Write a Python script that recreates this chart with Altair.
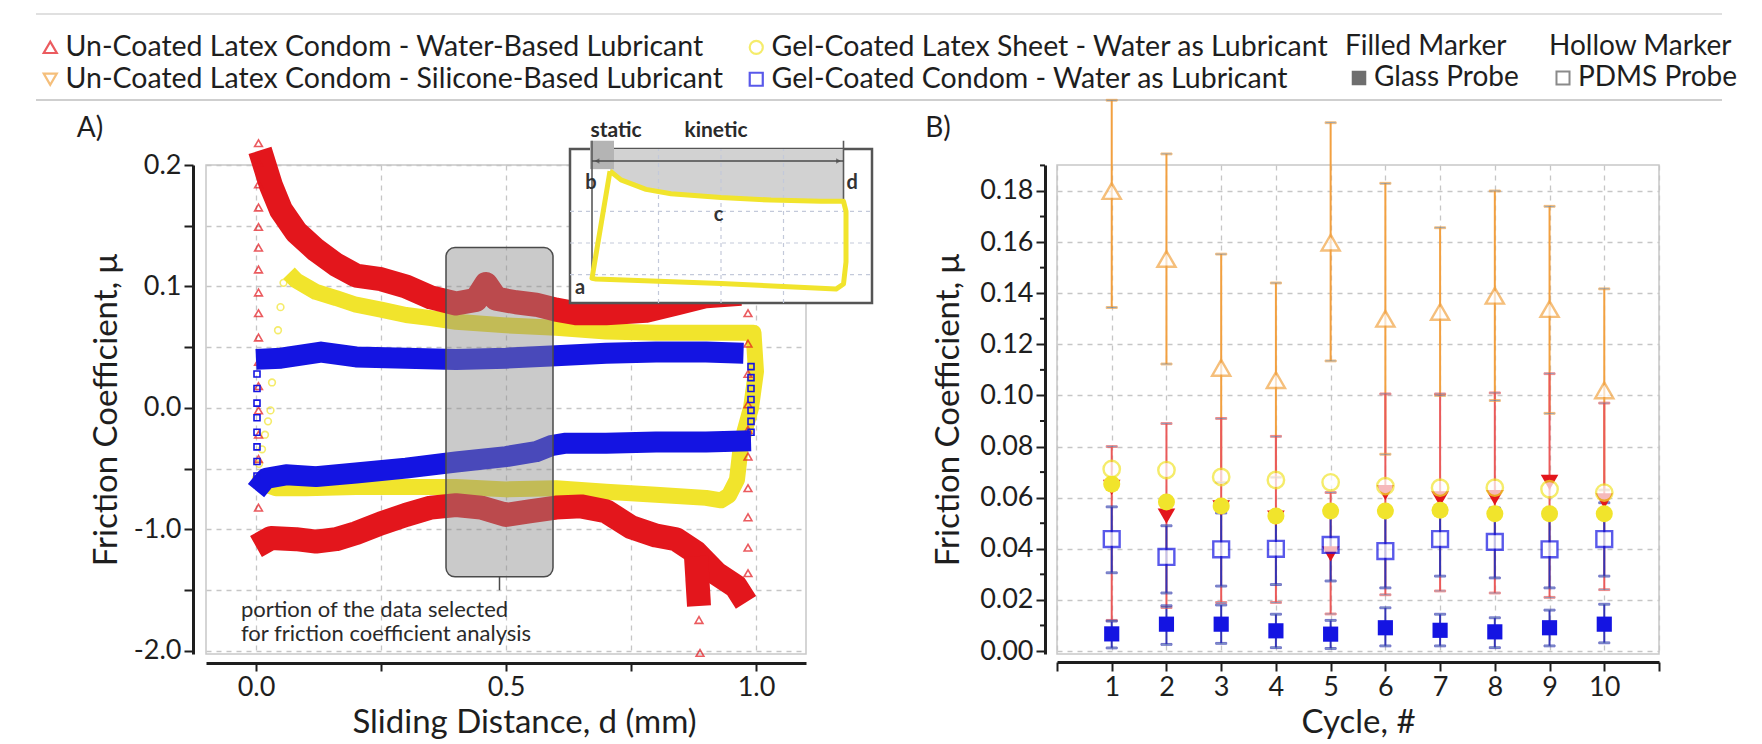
import altair as alt
import pandas as pd

FONT = "Lato"
INK = "#1e1e1e"
RED = "#e3161c"
ORANGE = "#f2a444"
YELLOW = "#f1e42c"
BLUE = "#1414e2"

# ---------------- series / legend (column-major: col 1 = first two) ----------------
series_names = [
    "Un-Coated Latex Condom - Water-Based Lubricant",
    "Un-Coated Latex Condom - Silicone-Based Lubricant",
    "Gel-Coated Latex Sheet - Water as Lubricant",
    "Gel-Coated Condom - Water as Lubricant",
]
series_colors = [RED, ORANGE, YELLOW, BLUE]
series_shapes = ["triangle-up", "triangle-down", "circle", "square"]
S_WATER, S_SILICONE, S_SHEET, S_CONDOM = series_names

# ---------------- panel A : friction loops ----------------
red_up_d = [0.008, 0.03, 0.05, 0.08, 0.12, 0.16, 0.20, 0.25, 0.30, 0.35, 0.40, 0.44, 0.46, 0.48,
            0.52, 0.56, 0.60, 0.64, 0.70, 0.78, 0.84, 0.90, 0.97]
red_up_mu = [0.212, 0.183, 0.163, 0.145, 0.130, 0.118, 0.109, 0.106, 0.100, 0.091, 0.086, 0.089, 0.102,
             0.090, 0.087, 0.085, 0.081, 0.078, 0.078, 0.080, 0.086, 0.092, 0.094]
red_dn_d = [0.0, 0.03, 0.08, 0.12, 0.16, 0.20, 0.25, 0.30, 0.35, 0.40, 0.45, 0.50, 0.55, 0.60, 0.65,
            0.70, 0.75, 0.80, 0.84, 0.88, 0.92, 0.96, 0.98]
red_dn_mu = [-0.114, -0.107, -0.108, -0.110, -0.108, -0.103, -0.095, -0.088, -0.082, -0.080, -0.082,
             -0.088, -0.085, -0.082, -0.081, -0.085, -0.098, -0.105, -0.108, -0.119, -0.136, -0.147, -0.160]
red_dip_d = [0.880, 0.886]
red_dip_mu = [-0.122, -0.163]

yellow_d = [0.0, 0.04, 0.10, 0.20, 0.30, 0.40, 0.50, 0.60, 0.70, 0.80, 0.90, 0.93, 0.946, 0.962, 0.97,
            0.99, 1.0, 0.995, 0.90, 0.80, 0.70, 0.60, 0.50, 0.40, 0.35, 0.30, 0.25, 0.20, 0.16, 0.12,
            0.08, 0.066]
yellow_mu = [-0.060, -0.066, -0.066, -0.065, -0.065, -0.065, -0.067, -0.066, -0.069, -0.0715, -0.074,
             -0.076, -0.072, -0.059, -0.030, 0.000, 0.030, 0.062, 0.062, 0.062, 0.063, 0.066, 0.068,
             0.071, 0.074, 0.0765, 0.081, 0.085, 0.0905, 0.0955, 0.105, 0.111]

blue_up_d = [0.0, 0.05, 0.13, 0.20, 0.30, 0.40, 0.50, 0.60, 0.70, 0.80, 0.90, 0.975]
blue_up_mu = [0.040, 0.041, 0.046, 0.042, 0.041, 0.040, 0.041, 0.043, 0.045, 0.046, 0.046, 0.045]
blue_dn_d = [0.0, 0.02, 0.06, 0.12, 0.20, 0.30, 0.40, 0.50, 0.56, 0.59, 0.62, 0.70, 0.80, 0.90, 0.99]
blue_dn_mu = [-0.068, -0.058, -0.055, -0.0565, -0.0535, -0.0495, -0.0445, -0.040, -0.036, -0.031,
              -0.029, -0.029, -0.028, -0.028, -0.027]

# sparse markers on the reversal edges
red_mk_d = [0.005] * 17 + [0.984] * 10 + [0.886, 0.888]
red_mk_mu = [0.218, 0.202, 0.184, 0.165, 0.149, 0.132, 0.114, 0.095, 0.078, 0.058, 0.038, 0.018,
             -0.002, -0.022, -0.042, -0.062, -0.082,
             0.078, 0.053, 0.028, 0.003, -0.018, -0.040, -0.066, -0.090, -0.115, -0.136,
             -0.1745, -0.2016]
yellow_mk_d = [0.0, 0.006, 0.012, 0.018, 0.024, 0.029, 0.032, 0.039, 0.044, 0.049, 0.055]
yellow_mk_mu = [-0.058, -0.046, -0.034, -0.022, -0.011, -0.002, 0.021, 0.042, 0.064, 0.083, 0.103]
blue_mk_d = [0.002] * 8 + [0.99] * 7
blue_mk_mu = [-0.056, -0.044, -0.032, -0.020, -0.008, 0.004, 0.016, 0.028,
              0.034, 0.025, 0.016, 0.007, -0.002, -0.011, -0.020]

sel_d = [0.38, 0.594]
sel_mu = [-0.139, 0.132]
sel_pointer_d = [0.487]
sel_pointer_mu = [-0.139, -0.150]
note_d = [-0.03]
note_mu = [-0.1665]
note_text = ["portion of the data selected\nfor friction coefficient analysis"]

# inset (own coordinates u, v), placed at half scale inside panel A
INSET_X = [-0.104, 1.104]
INSET_Y = [-0.095, 0.149]
IN_D0, IN_DS = 0.68, 0.5        # d  = IN_D0 + IN_DS * u
IN_M0, IN_MS = 0.1358, 0.5195   # mu = IN_M0 + IN_MS * v
inset_top_u = [0.056, 0.10, 0.20, 0.30, 0.50, 0.70, 0.90, 0.99]
inset_top_v = [0.114, 0.100, 0.085, 0.078, 0.072, 0.068, 0.066, 0.066]
inset_rest_u = [1.0, 1.0, 0.99, 0.96, 0.50, 0.0, -0.016, 0.056]
inset_rest_v = [0.050, -0.030, -0.065, -0.073, -0.064, -0.057, -0.056, 0.114]
inset_static_u = [-0.024, 0.072]
inset_static_v = [0.117, 0.162]
inset_grid_u = [0.25, 0.5, 0.75]
inset_grid_v = [-0.05, 0.0, 0.05]
inset_vline_u = [-0.016, 0.99]
inset_vline_v0 = [-0.056, 0.066]
inset_vline_v1 = [0.162, 0.162]
inset_arrow_u = [-0.016, 0.99]
inset_arrow_v = 0.130
inset_letters = ["a", "b", "c", "d"]
inset_letters_u = [-0.064, -0.02, 0.49, 1.025]
inset_letters_v = [-0.071, 0.095, 0.045, 0.095]
inset_words = ["static", "kinetic"]
inset_words_u = [0.08, 0.48]
inset_words_v = [0.178, 0.178]

# ---------------- panel B : friction per cycle ----------------
cycles = list(range(1, 11))
sil_mu = [0.180, 0.1534, 0.1108, 0.106, 0.1598, 0.130, 0.1327, 0.139, 0.1338, 0.102]
sil_lo = [0.1344, 0.1123, 0.066, 0.068, 0.1135, 0.077, 0.100, 0.098, 0.093, 0.063]
sil_hi = [0.2155, 0.1945, 0.1553, 0.144, 0.2067, 0.183, 0.1656, 0.180, 0.174, 0.1417]
water_mu = [0.064, 0.0528, 0.056, 0.052, 0.038, 0.062, 0.0595, 0.060, 0.066, 0.0587]
water_lo = [0.012, 0.017, 0.019, 0.019, 0.0145, 0.022, 0.0235, 0.0227, 0.021, 0.024]
water_hi = [0.080, 0.089, 0.091, 0.084, 0.062, 0.1006, 0.1006, 0.101, 0.1085, 0.097]
sheet_pdms_mu = [0.0712, 0.0708, 0.0681, 0.0669, 0.066, 0.0645, 0.0639, 0.0639, 0.0633, 0.062]
sheet_glass_mu = [0.0653, 0.0583, 0.0567, 0.0528, 0.0548, 0.0548, 0.0551, 0.0537, 0.0537, 0.0537]
condom_pdms_mu = [0.0438, 0.0368, 0.0398, 0.040, 0.0415, 0.0391, 0.0438, 0.0427, 0.0398, 0.0438]
condom_pdms_lo = [0.0306, 0.0227, 0.0254, 0.026, 0.0274, 0.0247, 0.0293, 0.0286, 0.0247, 0.0293]
condom_pdms_hi = [0.0564, 0.049, 0.054, 0.053, 0.055, 0.054, 0.057, 0.056, 0.054, 0.058]
condom_glass_mu = [0.0067, 0.0105, 0.0105, 0.0079, 0.0066, 0.0091, 0.0081, 0.0075, 0.0091, 0.0105]
condom_glass_lo = [0.0012, 0.0026, 0.003, 0.0013, 0.001, 0.002, 0.002, 0.0013, 0.002, 0.0032]
condom_glass_hi = [0.0117, 0.0177, 0.018, 0.0144, 0.012, 0.0169, 0.0144, 0.013, 0.016, 0.0183]

b_groups = ["Silicone / PDMS", "Water / Glass", "Sheet / Glass", "Sheet / PDMS",
            "Condom / PDMS", "Condom / Glass"]
b_colors = [ORANGE, RED, YELLOW, YELLOW, BLUE, BLUE]
b_bar_colors = ["#f2a040", "#ea5a5a", YELLOW, YELLOW, "#3434b4", "#3434b4"]
b_shapes = ["triangle-up", "triangle-down", "circle", "circle", "square", "square"]
b_sizes = [330, 230, 240, 250, 220, 210]
b_major_ticks = [round(0.02 * k, 2) for k in range(10)]
b_minor_ticks = [round(0.01 * k, 2) for k in range(1, 20, 2)]

# ================= build tables =================
def path(series, seg, ds, mus):
    return pd.DataFrame({"series": series, "seg": seg, "d": ds, "mu": mus, "i": range(len(ds))})

red_lines = pd.concat([path(S_WATER, "up", red_up_d, red_up_mu),
                       path(S_WATER, "down", red_dn_d, red_dn_mu),
                       path(S_WATER, "dip", red_dip_d, red_dip_mu)])
yellow_lines = path(S_SHEET, "loop", yellow_d, yellow_mu)
blue_lines = pd.concat([path(S_CONDOM, "up", blue_up_d, blue_up_mu),
                        path(S_CONDOM, "down", blue_dn_d, blue_dn_mu)])
red_mk = pd.DataFrame({"series": S_WATER, "d": red_mk_d, "mu": red_mk_mu})
yellow_mk = pd.DataFrame({"series": S_SHEET, "d": yellow_mk_d, "mu": yellow_mk_mu})
blue_mk = pd.DataFrame({"series": S_CONDOM, "d": blue_mk_d, "mu": blue_mk_mu, "probe": "PDMS Probe"})

# ================= panel A =================
A_XS = alt.Scale(domain=[-0.1, 1.1], nice=False, zero=False)
A_YS = alt.Scale(domain=[-0.2025, 0.2], nice=False, zero=False)
A_XAXIS = alt.Axis(
    values=[0, 0.25, 0.5, 0.75, 1.0],
    labelExpr="datum.value == 0 ? '0.0' : datum.value == 0.5 ? '0.5' : datum.value == 1 ? '1.0' : ''",
    tickSize=8, title="Sliding Distance, d (mm)", grid=True, offset=9, labelPadding=3, titlePadding=6,
    titleX=318,
)
A_YAXIS = alt.Axis(
    values=[-0.2, -0.15, -0.1, -0.05, 0, 0.05, 0.1, 0.15, 0.2],
    labelExpr=("datum.value == 0.2 ? '0.2' : datum.value == 0.1 ? '0.1' : datum.value == 0 ? '0.0' : "
               "datum.value == -0.1 ? '-1.0' : datum.value == -0.2 ? '-2.0' : ''"),
    tickSize=9, title="Friction Coefficient, μ", grid=True, offset=13, labelPadding=3, titlePadding=10,
)


def AX(f):
    return alt.X(f"{f}:Q", scale=A_XS, axis=A_XAXIS)


def AY(f):
    return alt.Y(f"{f}:Q", scale=A_YS, axis=A_YAXIS)


SERIES_LEGEND = alt.Legend(
    title=None, orient="none", legendX=-170, legendY=-132, columns=2,
    labelFontSize=28.5, labelLimit=3000, symbolSize=170, symbolStrokeWidth=2.2,
    rowPadding=3, columnPadding=19, labelOffset=1,
)
HOLLOW_LEGEND = alt.Legend(title="Hollow Marker", orient="none", legendX=1343, legendY=-132,
                           symbolType="square", symbolFillColor="white", symbolStrokeColor="#8a8a8a",
                           symbolStrokeWidth=2, symbolSize=170, titlePadding=3, labelOffset=1,
                           labelFontSize=28, titleFontSize=28, labelLimit=1000, titleLimit=1000)
COLOR_SCALE = alt.Scale(domain=series_names, range=series_colors)
SHAPE_SCALE = alt.Scale(domain=series_names, range=series_shapes)
# lines only carry the three series drawn in panel A
LINE_STROKE = alt.Stroke("series:N", scale=alt.Scale(domain=[S_WATER, S_SHEET, S_CONDOM],
                                                     range=[RED, YELLOW, BLUE]), legend=None)


def band(df, width):
    return alt.Chart(df).mark_line(strokeWidth=width, strokeCap="butt", strokeJoin="round").encode(
        x=AX("d"), y=AY("mu"), stroke=LINE_STROKE, detail="seg:N", order="i:Q")


def markers(df, size, **extra):
    return alt.Chart(df).mark_point(filled=False, size=size, strokeWidth=1.6).encode(
        x=AX("d"), y=AY("mu"),
        color=alt.Color("series:N", scale=COLOR_SCALE, legend=SERIES_LEGEND),
        shape=alt.Shape("series:N", scale=SHAPE_SCALE, legend=SERIES_LEGEND), **extra)


sel_df = pd.DataFrame({"d0": [sel_d[0]], "d1": [sel_d[1]], "m0": [sel_mu[0]], "m1": [sel_mu[1]]})
sel_box = alt.Chart(sel_df).mark_rect(cornerRadius=9, fill="#8a8a8a", fillOpacity=0.45,
                                      stroke="#4a4a4a", strokeWidth=1.5).encode(
    x=AX("d0"), x2="d1:Q", y=AY("m0"), y2="m1:Q")
ptr_df = pd.DataFrame({"d": sel_pointer_d, "m0": [sel_pointer_mu[0]], "m1": [sel_pointer_mu[1]]})
sel_ptr = alt.Chart(ptr_df).mark_rule(color="#4a4a4a", strokeWidth=1.5).encode(
    x=AX("d"), y=AY("m0"), y2="m1:Q")
note_df = pd.DataFrame({"d": note_d, "mu": note_mu, "t": note_text})
note = alt.Chart(note_df).mark_text(align="left", baseline="middle", fontSize=22, color="#2a2a2a",
                                    font=FONT, lineBreak="\n", lineHeight=24).encode(
    x=AX("d"), y=AY("mu"), text="t:N")

one = pd.DataFrame({"k": [0]})
rule_top = alt.Chart(one).mark_rule(color="#d6d6d6", strokeWidth=1.5).encode(
    x=alt.value(-170), x2=alt.value(1516), y=alt.value(-151))
rule_sep = alt.Chart(one).mark_rule(color="#cfcfcf", strokeWidth=2).encode(
    x=alt.value(-170), x2=alt.value(1516), y=alt.value(-65))
label_A = alt.Chart(one).mark_text(text="A)", fontSize=28, font=FONT, color=INK).encode(
    x=alt.value(-116), y=alt.value(-36))


# ---- inset, mapped into panel A coordinates by a calculate transform ----
def ichart(df, ucols, vcols):
    calc = {}
    for c in ucols:
        calc["X_" + c] = f"{IN_D0} + {IN_DS} * datum['{c}']"
    for c in vcols:
        calc["Y_" + c] = f"{IN_M0} + {IN_MS} * datum['{c}']"
    return alt.Chart(df).transform_calculate(**calc)


box_df = pd.DataFrame({"u0": [INSET_X[0]], "u1": [INSET_X[1]], "v0": [INSET_Y[0]], "v1": [INSET_Y[1]]})
ibox = ichart(box_df, ["u0", "u1"], ["v0", "v1"]).mark_rect(
    fill="white", stroke="#555555", strokeWidth=2.5).encode(
    x=AX("X_u0"), x2="X_u1:Q", y=AY("Y_v0"), y2="Y_v1:Q")
shade_df = pd.DataFrame({"u": inset_top_u, "v": inset_top_v, "vt": INSET_Y[1]})
ishade = ichart(shade_df, ["u"], ["v", "vt"]).mark_area(color="#d2d2d2").encode(
    x=AX("X_u"), y=AY("Y_v"), y2="Y_vt:Q")
st_df = pd.DataFrame({"u0": [inset_static_u[0]], "u1": [inset_static_u[1]],
                      "v0": [inset_static_v[0]], "v1": [inset_static_v[1]]})
istatic = ichart(st_df, ["u0", "u1"], ["v0", "v1"]).mark_rect(color="#b4b4b4").encode(
    x=AX("X_u0"), x2="X_u1:Q", y=AY("Y_v0"), y2="Y_v1:Q")
gv_df = pd.DataFrame({"u": inset_grid_u, "v0": INSET_Y[0], "v1": INSET_Y[1]})
igrid_v = ichart(gv_df, ["u"], ["v0", "v1"]).mark_rule(
    color="#c3c9da", strokeDash=[4, 4], strokeWidth=1.2).encode(
    x=AX("X_u"), y=AY("Y_v0"), y2="Y_v1:Q")
gh_df = pd.DataFrame({"v": inset_grid_v, "u0": INSET_X[0], "u1": INSET_X[1]})
igrid_h = ichart(gh_df, ["u0", "u1"], ["v"]).mark_rule(
    color="#c3c9da", strokeDash=[4, 4], strokeWidth=1.2).encode(
    x=AX("X_u0"), x2="X_u1:Q", y=AY("Y_v"))
vl_df = pd.DataFrame({"u": inset_vline_u, "v0": inset_vline_v0, "v1": inset_vline_v1})
ivlines = ichart(vl_df, ["u"], ["v0", "v1"]).mark_rule(color="#5a5a5a", strokeWidth=1.6).encode(
    x=AX("X_u"), y=AY("Y_v0"), y2="Y_v1:Q")
ar_df = pd.DataFrame({"u0": [inset_arrow_u[0]], "u1": [inset_arrow_u[1]], "v": [inset_arrow_v]})
iarrow = ichart(ar_df, ["u0", "u1"], ["v"]).mark_rule(color="#4a4a4a", strokeWidth=1.4).encode(
    x=AX("X_u0"), x2="X_u1:Q", y=AY("Y_v"))
hl_df = pd.DataFrame({"u": [inset_arrow_u[0] + 0.02], "v": [inset_arrow_v]})
hr_df = pd.DataFrame({"u": [inset_arrow_u[1] - 0.02], "v": [inset_arrow_v]})
ihead_l = ichart(hl_df, ["u"], ["v"]).mark_point(filled=True, shape="triangle-left", color="#4a4a4a",
                                                 size=30).encode(x=AX("X_u"), y=AY("Y_v"))
ihead_r = ichart(hr_df, ["u"], ["v"]).mark_point(filled=True, shape="triangle-right", color="#4a4a4a",
                                                 size=30).encode(x=AX("X_u"), y=AY("Y_v"))
iloop_df = pd.DataFrame({"u": inset_top_u + inset_rest_u, "v": inset_top_v + inset_rest_v,
                         "i": range(len(inset_top_u) + len(inset_rest_u))})
iloop = ichart(iloop_df, ["u"], ["v"]).mark_line(color=YELLOW, strokeWidth=5, strokeJoin="round").encode(
    x=AX("X_u"), y=AY("Y_v"), order="i:Q")
lt_df = pd.DataFrame({"t": inset_letters, "u": inset_letters_u, "v": inset_letters_v})
iletters = ichart(lt_df, ["u"], ["v"]).mark_text(
    fontSize=20, fontWeight="bold", color="#333333", font=FONT).encode(x=AX("X_u"), y=AY("Y_v"), text="t:N")
wd_df = pd.DataFrame({"t": inset_words, "u": inset_words_u, "v": inset_words_v})
iwords = ichart(wd_df, ["u"], ["v"]).mark_text(
    fontSize=21, fontWeight="bold", color="#2a2a2a", font=FONT).encode(x=AX("X_u"), y=AY("Y_v"), text="t:N")

panel_A = alt.layer(
    band(yellow_lines, 16), markers(yellow_mk, 45),
    band(red_lines, 24), markers(red_mk, 60),
    band(blue_lines, 21),
    markers(blue_mk, 36, opacity=alt.Opacity("probe:N", scale=alt.Scale(domain=["PDMS Probe"], range=[1]),
                                              legend=HOLLOW_LEGEND)),
    sel_box, sel_ptr, note,
    ibox, ishade, istatic, igrid_v, igrid_h, ivlines, iarrow, ihead_l, ihead_r, iloop, iletters, iwords,
    rule_top, rule_sep, label_A,
).properties(width=600, height=489)

# ================= panel B =================
def grp(name, probe, mu, lo=None, hi=None):
    return pd.DataFrame({"cycle": cycles, "grp": name, "probe": probe, "mu": mu,
                         "lo": lo if lo is not None else mu, "hi": hi if hi is not None else mu})

bars_df = pd.concat([
    grp(b_groups[0], "PDMS Probe", sil_mu, sil_lo, sil_hi),
    grp(b_groups[1], "Glass Probe", water_mu, water_lo, water_hi),
    grp(b_groups[4], "PDMS Probe", condom_pdms_mu, condom_pdms_lo, condom_pdms_hi),
    grp(b_groups[5], "Glass Probe", condom_glass_mu, condom_glass_lo, condom_glass_hi),
])
glass_df = pd.concat([
    grp(b_groups[1], "Glass Probe", water_mu),
    grp(b_groups[2], "Glass Probe", sheet_glass_mu),
    grp(b_groups[5], "Glass Probe", condom_glass_mu),
])
pdms_df = pd.concat([
    grp(b_groups[0], "PDMS Probe", sil_mu),
    grp(b_groups[3], "PDMS Probe", sheet_pdms_mu),
    grp(b_groups[4], "PDMS Probe", condom_pdms_mu),
])

B_XS = alt.Scale(domain=[0, 11], nice=False, zero=False)
B_YS = alt.Scale(domain=[-0.00117, 0.19016], nice=False, zero=False)
B_XAXIS = alt.Axis(values=list(range(12)),
                   labelExpr="datum.value >= 1 && datum.value <= 10 ? datum.label : ''",
                   title="Cycle, #", grid=True, offset=8, tickSize=9, labelPadding=3, titlePadding=6)
B_YAXIS = alt.Axis(values=b_major_ticks, format=".2f", tickSize=9,
                   title="Friction Coefficient, μ", grid=True, offset=12, labelPadding=3, titlePadding=14)


def BX(f="cycle"):
    return alt.X(f"{f}:Q", scale=B_XS, axis=B_XAXIS)


def BY(f):
    return alt.Y(f"{f}:Q", scale=B_YS, axis=B_YAXIS)


B_COLOR = alt.Color("grp:N", scale=alt.Scale(domain=b_groups, range=b_colors), legend=None)
B_SHAPE = alt.Shape("grp:N", scale=alt.Scale(domain=b_groups, range=b_shapes), legend=None)
B_SIZE = alt.Size("grp:N", scale=alt.Scale(domain=b_groups, range=b_sizes), legend=None)
B_BARCOLOR = alt.Stroke("grp:N", scale=alt.Scale(domain=b_groups, range=b_bar_colors), legend=None)

bars = alt.Chart(bars_df).mark_rule(strokeWidth=2).encode(
    x=BX(), y=BY("lo"), y2="hi:Q", stroke=B_BARCOLOR)
caps_lo = alt.Chart(bars_df).mark_tick(thickness=1.8, size=11, orient="horizontal").encode(
    x=BX(), y=BY("lo"), stroke=B_BARCOLOR)
caps_hi = alt.Chart(bars_df).mark_tick(thickness=1.8, size=11, orient="horizontal").encode(
    x=BX(), y=BY("hi"), stroke=B_BARCOLOR)

minor_df = pd.DataFrame({"v": b_minor_ticks})
minor_ticks = alt.Chart(minor_df).mark_rule(color=INK, strokeWidth=2).encode(
    y=BY("v"), x=alt.value(-12), x2=alt.value(-17))

FILLED_LEGEND = alt.Legend(title="Filled Marker", orient="none", legendX=288, legendY=-132,
                           symbolType="square", symbolFillColor="#6e6e6e", symbolStrokeColor="#6e6e6e",
                           symbolSize=170, titlePadding=3, labelOffset=1, labelFontSize=28,
                           titleFontSize=28, labelLimit=1000, titleLimit=1000)

glass_pts = alt.Chart(glass_df).mark_point(filled=True).encode(
    x=BX(), y=BY("mu"), color=B_COLOR, shape=B_SHAPE, size=B_SIZE,
    opacity=alt.Opacity("probe:N", scale=alt.Scale(domain=["Glass Probe"], range=[1]),
                        legend=FILLED_LEGEND))
pdms_pts = alt.Chart(pdms_df).mark_point(filled=False, fill="white", strokeWidth=2.4).encode(
    x=BX(), y=BY("mu"), color=B_COLOR, shape=B_SHAPE, size=B_SIZE)
label_B = alt.Chart(one).mark_text(text="B)", fontSize=28, font=FONT, color=INK).encode(
    x=alt.value(-119), y=alt.value(-36))

panel_B = alt.layer(bars, caps_lo, caps_hi, minor_ticks, glass_pts, pdms_pts, label_B).properties(
    width=602, height=489)

chart = alt.hconcat(panel_A, panel_B, spacing=251, bounds="flush").resolve_scale(
    color="independent", shape="independent", size="independent", stroke="independent",
    opacity="independent",
).properties(
    padding={"left": 34, "top": 12, "right": 10, "bottom": 4}
).configure(font=FONT).configure_view(
    stroke="#c8c8c8", strokeWidth=1.5
).configure_axis(
    domainColor=INK, domainWidth=3, tickColor=INK, tickWidth=2,
    labelFont=FONT, labelFontSize=27, labelColor=INK,
    titleFont=FONT, titleFontSize=33, titleFontWeight="normal", titleColor=INK,
    gridColor="#c6c6c6", gridDash=[5, 5], gridWidth=1.3,
).configure_legend(
    labelFont=FONT, titleFont=FONT, labelColor=INK, titleColor=INK, titleFontWeight="normal",
)

chart.save("out.html", embed_options={"renderer": "svg", "actions": False})
